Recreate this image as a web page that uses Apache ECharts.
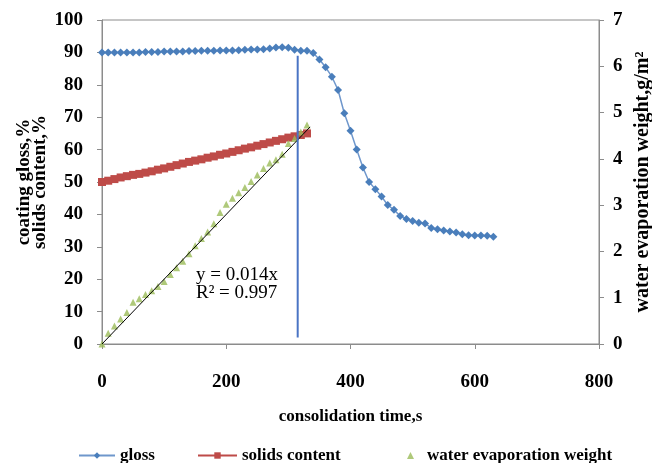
<!DOCTYPE html>
<html>
<head>
<meta charset="utf-8">
<script src="https://cdn.jsdelivr.net/npm/echarts@6/dist/echarts.min.js"></script>
<style>
html,body{margin:0;padding:0;background:#fff;}
#chart{width:652px;height:463px;}
</style>
</head>
<body>
<div id="chart"></div>
<script>
// ---- data ----
var glossTime = [0,10,20,30,40,50,60,70,80,90,100,110,120,130,140,150,160,170,180,190,200,210,220,230,240,250,260,270,280,290,300,310,320,330,340,350,360,370,380,390,400,410,420,430,440,450,460,470,480,490,500,510,520,530,540,550,560,570,580,590,600,610,620,630];
var glossValues = [90.0,90.0,90.0,90.0,90.0,90.0,90.0,90.1,90.1,90.1,90.3,90.3,90.3,90.3,90.4,90.4,90.5,90.5,90.5,90.6,90.6,90.6,90.7,90.8,90.9,90.9,91.0,91.2,91.5,91.6,91.4,90.8,90.5,90.5,89.8,87.8,85.4,82.5,78.4,71.2,65.8,60.0,54.5,50.0,47.8,45.5,42.9,41.4,39.5,38.6,38.0,37.4,37.2,35.8,35.4,35.0,34.7,34.4,33.9,33.6,33.5,33.5,33.4,33.1];

var solidsTime = [0,10,20,30,40,50,60,70,80,90,100,110,120,130,140,150,160,170,180,190,200,210,220,230,240,250,260,270,280,290,300,310,320,330];
var solidsValues = [50.0,50.4,50.9,51.4,51.8,52.2,52.5,52.9,53.3,53.8,54.2,54.7,55.2,55.7,56.2,56.6,57.0,57.5,57.9,58.4,58.8,59.3,59.8,60.3,60.7,61.2,61.7,62.2,62.7,63.2,63.7,64.1,64.5,65.0];

var waterTime = [0,10,20,30,40,50,60,70,80,90,100,110,120,130,140,150,160,170,180,190,200,210,220,230,240,250,260,270,280,290,300,310,320,330];
var waterValues = [0,0.23,0.39,0.54,0.68,0.90,0.98,1.07,1.15,1.24,1.35,1.50,1.65,1.79,1.95,2.12,2.28,2.42,2.60,2.84,3.02,3.15,3.27,3.38,3.51,3.65,3.79,3.91,3.98,4.10,4.33,4.44,4.58,4.73];

var trendSlope = 0.014;
var trendTime = [0, 335];
var trendText = ['y = 0.014x', 'R\u00B2 = 0.997'];

var markerTime = 315;
var markerRange = [2, 89];

var xTicks = [0, 800, 200];
var leftTicks = [0, 100, 10];
var rightTicks = [0, 7, 1];

var names = ['gloss', 'solids content', 'water evaporation weight'];

// ---- chart ----
function zip(a, b) { return a.map(function (v, i) { return [v, b[i]]; }); }
var FONT = '"Liberation Serif","Times New Roman",serif';
var axisGray = '#8c8c8c';

var chart = echarts.init(document.getElementById('chart'), null, {renderer: 'canvas'});
var labelStyle = {color: '#000', fontFamily: FONT, fontWeight: 'bold', fontSize: 19};
var legendText = {color: '#000', fontFamily: FONT, fontWeight: 'bold', fontSize: 17};

chart.setOption({
  animation: false,
  backgroundColor: '#fff',
  grid: {left: 102, right: 53, top: 20, bottom: 119, show: true, borderColor: axisGray, borderWidth: 1,
         containLabel: false, outerBoundsMode: 'none'},
  xAxis: {
    type: 'value', min: xTicks[0], max: xTicks[1], interval: xTicks[2],
    name: 'consolidation time,s', nameLocation: 'middle', nameGap: 64, nameMoveOverlap: false,
    nameTextStyle: {color: '#000', fontFamily: FONT, fontWeight: 'bold', fontSize: 17},
    axisLine: {lineStyle: {color: axisGray}},
    axisTick: {show: true, inside: false, length: 5, lineStyle: {color: axisGray}},
    axisLabel: Object.assign({margin: 29}, labelStyle),
    splitLine: {show: false}
  },
  yAxis: [{
    type: 'value', min: leftTicks[0], max: leftTicks[1], interval: leftTicks[2], position: 'left',
    name: 'coating gloss,%\nsolids content,%', nameLocation: 'middle', nameGap: 54, nameRotate: 90,
    nameMoveOverlap: false,
    nameTextStyle: {color: '#000', fontFamily: FONT, fontWeight: 'bold', fontSize: 19, lineHeight: 16},
    axisLine: {show: true, lineStyle: {color: axisGray}},
    axisTick: {show: true, length: 5, lineStyle: {color: axisGray}},
    axisLabel: Object.assign({margin: 19}, labelStyle),
    splitLine: {show: false}
  }, {
    type: 'value', min: rightTicks[0], max: rightTicks[1], interval: rightTicks[2], position: 'right',
    name: 'water evaporation weight,g/m\u00B2', nameLocation: 'middle', nameGap: 34, nameRotate: 90,
    nameMoveOverlap: false,
    nameTextStyle: {color: '#000', fontFamily: FONT, fontWeight: 'bold', fontSize: 20},
    axisLine: {show: true, lineStyle: {color: axisGray}},
    axisTick: {show: true, length: 5, lineStyle: {color: axisGray}},
    axisLabel: Object.assign({margin: 14}, labelStyle),
    splitLine: {show: false}
  }],
  legend: [{
    left: 73, top: 442, data: [names[0]], itemWidth: 36, itemHeight: 8, textStyle: legendText
  }, {
    left: 192, top: 442, data: [names[1]], itemWidth: 39, itemHeight: 8, textStyle: legendText
  }, {
    left: 402, top: 442, data: [names[2]], itemWidth: 7, itemHeight: 7,
    textStyle: Object.assign({padding: [0, 0, 0, 8]}, legendText)
  }],
  graphic: [{
    type: 'text', left: 196, top: 266,
    style: {text: trendText[0], fill: '#000', font: '19px ' + FONT}
  }, {
    type: 'text', left: 196, top: 284,
    style: {text: trendText[1], fill: '#000', font: '19px ' + FONT}
  }],
  series: [{
    name: names[2], type: 'scatter', yAxisIndex: 1,
    data: zip(waterTime, waterValues),
    symbol: 'triangle', symbolSize: 7,
    itemStyle: {color: '#9bbb59'}, z: 3
  }, {
    name: 'trend', type: 'line', yAxisIndex: 1,
    data: trendTime.map(function (t) { return [t, trendSlope * t]; }),
    showSymbol: false, symbol: 'none',
    lineStyle: {color: '#000', width: 1}, z: 4, silent: true
  }, {
    name: names[1], type: 'line', yAxisIndex: 0,
    data: zip(solidsTime, solidsValues),
    symbol: 'rect', symbolSize: 8, showAllSymbol: true,
    itemStyle: {color: '#be4b48'}, lineStyle: {color: '#be4b48', width: 1.5}, z: 2
  }, {
    name: names[0], type: 'line', yAxisIndex: 0,
    data: zip(glossTime, glossValues),
    symbol: 'diamond', symbolSize: 8, showAllSymbol: true,
    itemStyle: {color: '#4a7ebb'}, lineStyle: {color: '#6f97cc', width: 1.5}, z: 5
  }, {
    name: 'marker', type: 'line', yAxisIndex: 0,
    data: markerRange.map(function (v) { return [markerTime, v]; }),
    symbol: 'none', lineStyle: {color: '#4a74c4', width: 2}, z: 6, silent: true
  }]
});
</script>
</body>
</html>
